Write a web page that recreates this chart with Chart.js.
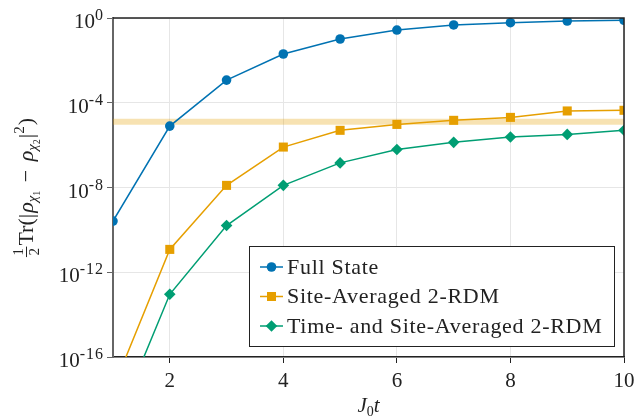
<!DOCTYPE html>
<html lang="en">
<head>
    <meta charset="UTF-8">
    <script src="https://cdn.jsdelivr.net/npm/chart.js"></script>
    <title>Trace distance vs J0 t</title>
    <style>
        body {
            margin: 0;
            padding: 0;
            background: #ffffff;
        }
        #wrap {
            width: 636px;
            height: 418px;
        }
    </style>
</head>
<body>
    <div id="wrap"><canvas id="chart" width="636" height="418"></canvas></div>

    <script>
        // values
        const times = [1, 2, 3, 4, 5, 6, 7, 8, 9, 10];
        const fullState = [2.6e-10, 7.9e-6, 1.17e-3, 2.0e-2, 1.02e-1, 2.7e-1, 4.7e-1, 6.0e-1, 7.2e-1, 7.8e-1];
        const siteAveraged = [3.2e-18, 1.2e-11, 1.26e-8, 8.1e-7, 5.0e-6, 9.5e-6, 1.48e-5, 2.04e-5, 4.1e-5, 4.4e-5];
        const timeSiteAveraged = [3.0e-20, 9.1e-14, 1.6e-10, 1.26e-8, 1.45e-7, 6.2e-7, 1.35e-6, 2.4e-6, 3.2e-6, 5.0e-6];
        const threshold = 1.26e-5;
        const xTicks = [2, 4, 6, 8, 10];
        const yTicks = [1e0, 1e-4, 1e-8, 1e-12, 1e-16];
        const yTickExp = ['0', '-4', '-8', '-12', '-16'];
        const seriesLabels = ['Full State', 'Site-Averaged 2-RDM', 'Time- and Site-Averaged 2-RDM'];

        const blue = '#0072B2';
        const orange = '#E69F00';
        const green = '#009E73';
        const serif = "'Liberation Serif', 'DejaVu Serif', serif";

        Chart.defaults.font.family = serif;
        Chart.defaults.color = '#222';

        function pts(ys) {
            return times.map((t, i) => ({ x: t, y: ys[i] }));
        }

        // draws a run of text pieces, each with its own font and vertical shift
        function drawPieces(ctx, pieces, x0, y0) {
            let x = x0;
            pieces.forEach(p => {
                ctx.font = p.font;
                if (p.frac) {
                    const w = Math.max(ctx.measureText(p.num).width, ctx.measureText(p.den).width) + 3;
                    ctx.textAlign = 'center';
                    ctx.fillText(p.num, x + w / 2, y0 - 10);
                    ctx.fillText(p.den, x + w / 2, y0 + 6);
                    ctx.fillRect(x, y0 - 7, w, 1);
                    ctx.textAlign = 'left';
                    x += w + 1;
                } else {
                    ctx.fillText(p.t, x, y0 + (p.dy || 0));
                    x += ctx.measureText(p.t).width + (p.gap || 0);
                }
            });
            return x - x0;
        }

        const yLabelPieces = [
            { frac: true, num: '1', den: '2', font: '15px ' + serif },
            { t: 'Tr(|', font: '22px ' + serif, gap: 1 },
            { t: 'ρ', font: 'italic 22px ' + serif },
            { t: 'χ', font: 'italic 15px ' + serif, dy: 4 },
            { t: '1', font: '10px ' + serif, dy: 7, gap: 3 },
            { t: ' − ', font: '22px ' + serif, gap: 3 },
            { t: 'ρ', font: 'italic 22px ' + serif },
            { t: 'χ', font: 'italic 15px ' + serif, dy: 4 },
            { t: '2', font: '10px ' + serif, dy: 7, gap: 1 },
            { t: '|', font: '22px ' + serif },
            { t: '2', font: '15px ' + serif, dy: -9, gap: 1 },
            { t: ')', font: '22px ' + serif }
        ];

        const xLabelPieces = [
            { t: 'J', font: 'italic 21px ' + serif },
            { t: '0', font: '14px ' + serif, dy: 4 },
            { t: 't', font: 'italic 21px ' + serif }
        ];

        const decorPlugin = {
            id: 'decor',
            afterDraw(chart) {
                const ctx = chart.ctx;
                const area = chart.chartArea;
                const ys = chart.scales.y;

                // top and right frame
                ctx.save();
                ctx.strokeStyle = '#222';
                ctx.lineWidth = 1.5;
                ctx.beginPath();
                ctx.moveTo(area.left, area.top);
                ctx.lineTo(area.right, area.top);
                ctx.lineTo(area.right, area.bottom);
                ctx.stroke();

                // y tick labels with superscripts
                ctx.fillStyle = '#222';
                ctx.textBaseline = 'alphabetic';
                yTicks.forEach((v, i) => {
                    const py = ys.getPixelForValue(v);
                    ctx.font = '16px ' + serif;
                    ctx.letterSpacing = '1px';
                    const ew = ctx.measureText(yTickExp[i]).width;
                    ctx.textAlign = 'right';
                    ctx.fillText(yTickExp[i], 104, py + 2);
                    ctx.letterSpacing = '0px';
                    ctx.font = '21px ' + serif;
                    ctx.fillText('10', 104 - ew, py + 10);
                });
                ctx.textAlign = 'left';

                // y axis title, rotated
                ctx.save();
                ctx.translate(33, (area.top + area.bottom) / 2);
                ctx.rotate(-Math.PI / 2);
                const mctx = document.createElement('canvas').getContext('2d');
                const wy = drawPieces(mctx, yLabelPieces, 0, 0);
                drawPieces(ctx, yLabelPieces, -wy / 2, 0);
                ctx.restore();

                // x axis title
                const wx = drawPieces(document.createElement('canvas').getContext('2d'), xLabelPieces, 0, 0);
                drawPieces(ctx, xLabelPieces, (area.left + area.right) / 2 - wx / 2, 412);

                // legend
                const bx = 249, by = 246, bw = 365, bh = 100;
                ctx.fillStyle = '#ffffff';
                ctx.fillRect(bx, by, bw, bh);
                ctx.strokeStyle = '#222';
                ctx.lineWidth = 1;
                ctx.strokeRect(bx + 0.5, by + 0.5, bw, bh);
                for (let i = 0; i < 3; i++) {
                    const ds = chart.data.datasets[i];
                    const ry = by + 21 + i * 29.5;
                    ctx.strokeStyle = ds.borderColor;
                    ctx.lineWidth = 1.5;
                    ctx.beginPath();
                    ctx.moveTo(260, ry);
                    ctx.lineTo(283, ry);
                    ctx.stroke();
                    ctx.fillStyle = ds.pointBackgroundColor;
                    Chart.helpers.drawPoint(ctx, {
                        pointStyle: ds.pointStyle,
                        radius: ds.pointRadius,
                        borderWidth: 0,
                        rotation: 0
                    }, 271.5, ry);
                    ctx.fillStyle = '#222';
                    ctx.font = '22px ' + serif;
                    ctx.letterSpacing = '0.7px';
                    ctx.textBaseline = 'middle';
                    ctx.fillText(seriesLabels[i], 287, ry + 1);
                    ctx.letterSpacing = '0px';
                    ctx.textBaseline = 'alphabetic';
                }
                ctx.restore();
            }
        };

        new Chart(document.getElementById('chart').getContext('2d'), {
            type: 'line',
            data: {
                datasets: [{
                    label: seriesLabels[0],
                    data: pts(fullState),
                    borderColor: blue,
                    pointBackgroundColor: blue,
                    pointBorderColor: blue,
                    pointStyle: 'circle',
                    pointRadius: 4.8,
                    borderWidth: 1.5,
                    pointBorderWidth: 0,
                    clip: 0,
                    order: 1
                }, {
                    label: seriesLabels[1],
                    data: pts(siteAveraged),
                    borderColor: orange,
                    pointBackgroundColor: orange,
                    pointBorderColor: orange,
                    pointStyle: 'rect',
                    pointRadius: 6.4,
                    borderWidth: 1.5,
                    pointBorderWidth: 0,
                    clip: 0,
                    order: 2
                }, {
                    label: seriesLabels[2],
                    data: pts(timeSiteAveraged),
                    borderColor: green,
                    pointBackgroundColor: green,
                    pointBorderColor: green,
                    pointStyle: 'rectRot',
                    pointRadius: 5.8,
                    borderWidth: 1.5,
                    pointBorderWidth: 0,
                    clip: 0,
                    order: 3
                }, {
                    label: 'threshold',
                    data: [{ x: times[0], y: threshold }, { x: times[times.length - 1], y: threshold }],
                    borderColor: 'rgba(230, 159, 0, 0.3)',
                    borderWidth: 6,
                    pointRadius: 0,
                    clip: 0,
                    order: 10
                }]
            },
            options: {
                responsive: false,
                animation: false,
                events: [],
                layout: { padding: { top: 18, right: 12, left: 0, bottom: 0 } },
                plugins: {
                    legend: { display: false },
                    tooltip: { enabled: false }
                },
                scales: {
                    x: {
                        type: 'linear',
                        min: 1,
                        max: 10,
                        afterBuildTicks: s => { s.ticks = xTicks.map(v => ({ value: v })); },
                        afterFit: s => {
                            s.height = 61;
                            s.paddingLeft = 0;
                            s.paddingRight = 0;
                        },
                        grid: {
                            color: '#e6e6e6',
                            lineWidth: 1,
                            tickColor: '#222',
                            tickLength: 6
                        },
                        border: { color: '#222', width: 1.5 },
                        ticks: {
                            font: { size: 21 },
                            color: '#222',
                            padding: 6,
                            maxRotation: 0
                        }
                    },
                    y: {
                        type: 'logarithmic',
                        min: 1e-16,
                        max: 1,
                        afterBuildTicks: s => { s.ticks = yTicks.map(v => ({ value: v })); },
                        afterFit: s => {
                            s.width = 113;
                            s.paddingTop = 0;
                            s.paddingBottom = 0;
                        },
                        grid: {
                            color: '#e6e6e6',
                            lineWidth: 1,
                            tickColor: '#666',
                            tickLength: 6
                        },
                        border: { color: '#666', width: 2 },
                        ticks: {
                            callback: () => '',
                            padding: 0
                        }
                    }
                }
            },
            plugins: [decorPlugin]
        });
    </script>
</body>
</html>
